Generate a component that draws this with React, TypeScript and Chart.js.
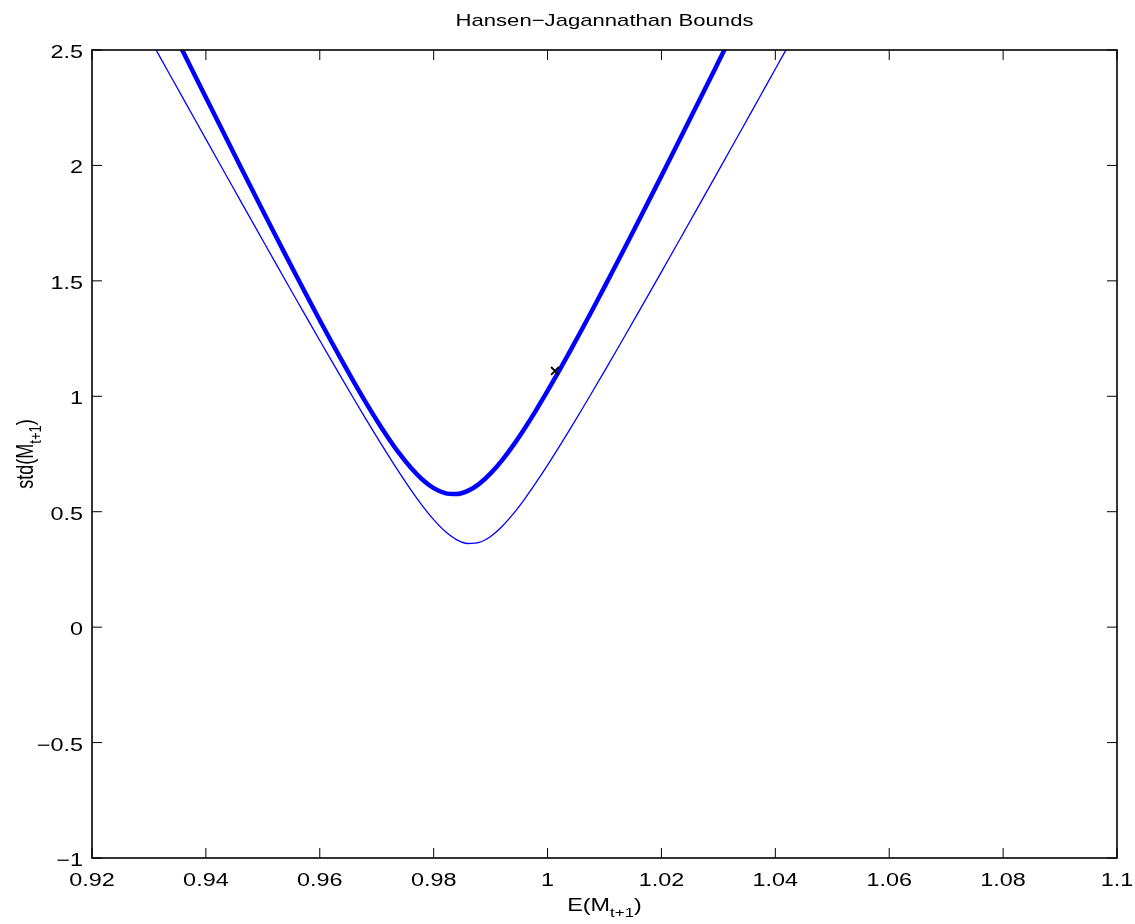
import React, { useEffect, useRef } from "react";
import { Chart, registerables } from "chart.js";

Chart.register(...registerables);

// ---- data ----
const xTickValues = [0.92, 0.94, 0.96, 0.98, 1.0, 1.02, 1.04, 1.06, 1.08, 1.1];
const xTickLabels = ["0.92", "0.94", "0.96", "0.98", "1", "1.02", "1.04", "1.06", "1.08", "1.1"];
const yTickValues = [-1, -0.5, 0, 0.5, 1, 1.5, 2, 2.5];
const yTickLabels = ["\u22121", "\u22120.5", "0", "0.5", "1", "1.5", "2", "2.5"];

const titleText = "Hansen\u2212Jagannathan Bounds";

// thick bound
const thickE = [
  0.934, 0.936, 0.938, 0.94, 0.942, 0.944, 0.946, 0.948, 0.95, 0.952, 0.954, 0.956, 0.958, 0.96,
  0.962, 0.964, 0.966, 0.968, 0.97, 0.972, 0.974, 0.976, 0.978, 0.98, 0.982, 0.984, 0.986, 0.988,
  0.99, 0.992, 0.994, 0.996, 0.998, 1.0, 1.002, 1.004, 1.006, 1.008, 1.01, 1.012, 1.014, 1.016,
  1.018, 1.02, 1.022, 1.024, 1.026, 1.028, 1.03, 1.032,
];
const thickStd = [
  2.592, 2.4925, 2.3932, 2.2941, 2.1953, 2.0968, 1.9987, 1.9011, 1.8039, 1.7073, 1.6115, 1.5164,
  1.4224, 1.3296, 1.2382, 1.1487, 1.0614, 0.9771, 0.8965, 0.8208, 0.7513, 0.6901, 0.6394, 0.6019,
  0.5803, 0.5762, 0.5901, 0.6207, 0.6658, 0.7226, 0.7886, 0.8618, 0.9403, 1.0231, 1.1091, 1.1977,
  1.2882, 1.3804, 1.474, 1.5686, 1.6641, 1.7603, 1.8573, 1.9547, 2.0526, 2.1509, 2.2496, 2.3485,
  2.4478, 2.5472,
];

// thin bound
const thinE = [
  0.93, 0.932, 0.934, 0.936, 0.938, 0.94, 0.942, 0.944, 0.946, 0.948, 0.95, 0.952, 0.954, 0.956,
  0.958, 0.96, 0.962, 0.964, 0.966, 0.968, 0.97, 0.972, 0.974, 0.976, 0.978, 0.98, 0.982, 0.984,
  0.986, 0.988, 0.99, 0.992, 0.994, 0.996, 0.998, 1.0, 1.002, 1.004, 1.006, 1.008, 1.01, 1.012,
  1.014, 1.016, 1.018, 1.02, 1.022, 1.024, 1.026, 1.028, 1.03, 1.032, 1.034, 1.036, 1.038, 1.04,
  1.042, 1.044,
];
const thinStd = [
  2.5556, 2.4671, 2.3787, 2.2903, 2.202, 2.1138, 2.0257, 1.9378, 1.8499, 1.7623, 1.6748, 1.5876,
  1.5006, 1.414, 1.3277, 1.2418, 1.1566, 1.072, 0.9881, 0.9055, 0.8242, 0.7449, 0.6681, 0.5948,
  0.5267, 0.4656, 0.4151, 0.3792, 0.3624, 0.3672, 0.3929, 0.4358, 0.4914, 0.5559, 0.6266, 0.7015,
  0.7796, 0.8598, 0.9417, 1.0249, 1.109, 1.194, 1.2796, 1.3656, 1.4521, 1.5388, 1.6259, 1.7133,
  1.8008, 1.8886, 1.9764, 2.0645, 2.1526, 2.2408, 2.3292, 2.4176, 2.5061, 2.5946,
];

// single marked point
const markerE = [1.0013];
const markerStd = [1.11];

// ---- drawing helpers ----
const FONT = '"Liberation Sans", Arial, Helvetica, sans-serif';
const SX = 1.3;

function drawText(ctx: CanvasRenderingContext2D, s: string, x: number, y: number, align: string, size: number) {
  ctx.save();
  ctx.font = `${size}px ${FONT}`;
  const w = ctx.measureText(s).width * SX;
  const left = align === "center" ? x - w / 2 : align === "right" ? x - w : x;
  ctx.translate(left, y);
  ctx.scale(SX, 1);
  ctx.textAlign = "left";
  ctx.textBaseline = "alphabetic";
  ctx.fillStyle = "#000";
  ctx.fillText(s, 0, 0);
  ctx.restore();
}

function subLabelParts(ctx: CanvasRenderingContext2D, main: string, sub: string, tail: string) {
  ctx.font = `18px ${FONT}`;
  const w1 = ctx.measureText(main).width;
  const w3 = ctx.measureText(tail).width;
  ctx.font = `13px ${FONT}`;
  const w2 = ctx.measureText(sub).width;
  return { w1, w2, w3, total: w1 + w2 + w3 };
}

function drawSubLabel(ctx: CanvasRenderingContext2D, main: string, sub: string, tail: string) {
  const p = subLabelParts(ctx, main, sub, tail);
  ctx.fillStyle = "#000";
  ctx.textAlign = "left";
  ctx.textBaseline = "alphabetic";
  ctx.font = `18px ${FONT}`;
  ctx.fillText(main, 0, 0);
  ctx.font = `13px ${FONT}`;
  ctx.fillText(sub, p.w1, 6);
  ctx.font = `18px ${FONT}`;
  ctx.fillText(tail, p.w1 + p.w2, 0);
  return p;
}

const framePlugin = {
  id: "matlabFrame",
  afterDraw(chart: any) {
    const ctx: CanvasRenderingContext2D = chart.ctx;
    const { left, right, top, bottom } = chart.chartArea;
    const xs = chart.scales.x;
    const ys = chart.scales.y;
    const tick = 10;

    ctx.save();
    ctx.strokeStyle = "#000";
    ctx.lineWidth = 1;
    ctx.beginPath();
    xTickValues.forEach((v) => {
      const px = xs.getPixelForValue(v);
      ctx.moveTo(px, bottom);
      ctx.lineTo(px, bottom - tick);
      ctx.moveTo(px, top);
      ctx.lineTo(px, top + tick);
    });
    yTickValues.forEach((v) => {
      const py = ys.getPixelForValue(v);
      ctx.moveTo(left, py);
      ctx.lineTo(left + tick, py);
      ctx.moveTo(right, py);
      ctx.lineTo(right - tick, py);
    });
    ctx.stroke();

    ctx.lineWidth = 1.6;
    ctx.strokeRect(left, top, right - left, bottom - top);

    xTickValues.forEach((v, i) => {
      drawText(ctx, xTickLabels[i], xs.getPixelForValue(v), bottom + 28, "center", 18);
    });
    yTickValues.forEach((v, i) => {
      drawText(ctx, yTickLabels[i], left - 9, ys.getPixelForValue(v) + 8, "right", 18);
    });

    drawText(ctx, titleText, (left + right) / 2, 26, "center", 17);

    {
      const p = subLabelParts(ctx, "E(M", "t+1", ")");
      const cx = (left + right) / 2;
      ctx.save();
      ctx.translate(cx - (p.total * SX) / 2, 911);
      ctx.scale(SX, 1);
      drawSubLabel(ctx, "E(M", "t+1", ")");
      ctx.restore();
    }

    {
      const p = subLabelParts(ctx, "std(M", "t+1", ")");
      const cy = (top + bottom) / 2;
      ctx.save();
      ctx.translate(33, cy);
      ctx.scale(SX, 1);
      ctx.rotate(-Math.PI / 2);
      ctx.translate(-p.total / 2, 0);
      drawSubLabel(ctx, "std(M", "t+1", ")");
      ctx.restore();
    }
    ctx.restore();
  },
};

export default function App() {
  const canvasRef = useRef<HTMLCanvasElement | null>(null);

  useEffect(() => {
    const canvas = canvasRef.current;
    if (!canvas) return;
    const chart = new Chart(canvas, {
      type: "scatter",
      data: {
        datasets: [
          {
            label: "point",
            data: markerE.map((x, i) => ({ x, y: markerStd[i] })),
            showLine: false,
            pointStyle: "crossRot",
            pointRadius: 5.5,
            pointBorderWidth: 1.8,
            borderColor: "#000",
            backgroundColor: "#000",
            order: 0,
          },
          {
            label: "bound 1",
            data: thickE.map((x, i) => ({ x, y: thickStd[i] })),
            showLine: true,
            borderColor: "#0000ff",
            borderWidth: 4.5,
            pointRadius: 0,
            cubicInterpolationMode: "monotone",
            clip: 0,
            order: 1,
          },
          {
            label: "bound 2",
            data: thinE.map((x, i) => ({ x, y: thinStd[i] })),
            showLine: true,
            borderColor: "#0000ff",
            borderWidth: 1.3,
            pointRadius: 0,
            cubicInterpolationMode: "monotone",
            clip: 0,
            order: 2,
          },
        ],
      },
      options: {
        responsive: false,
        animation: false,
        devicePixelRatio: 1,
        layout: { padding: { left: 0, top: 50, right: 18, bottom: 0 } },
        plugins: {
          legend: { display: false },
          title: { display: false },
          tooltip: { enabled: false },
        },
        events: [],
        scales: {
          x: {
            type: "linear",
            min: 0.92,
            max: 1.1,
            grid: { display: false },
            border: { display: false },
            ticks: { display: false },
            afterBuildTicks: (s: any) => {
              s.ticks = xTickValues.map((v) => ({ value: v }));
            },
            afterFit: (s: any) => {
              s.height = 66;
            },
          },
          y: {
            type: "linear",
            min: -1,
            max: 2.5,
            grid: { display: false },
            border: { display: false },
            ticks: { display: false },
            afterBuildTicks: (s: any) => {
              s.ticks = yTickValues.map((v) => ({ value: v }));
            },
            afterFit: (s: any) => {
              s.width = 92;
            },
          },
        },
      } as any,
      plugins: [framePlugin],
    });
    return () => chart.destroy();
  }, []);

  return (
    <div style={{ position: "absolute", left: 0, top: 0, width: 1135, height: 924, background: "#fff" }}>
      <canvas ref={canvasRef} width={1135} height={924} />
    </div>
  );
}
